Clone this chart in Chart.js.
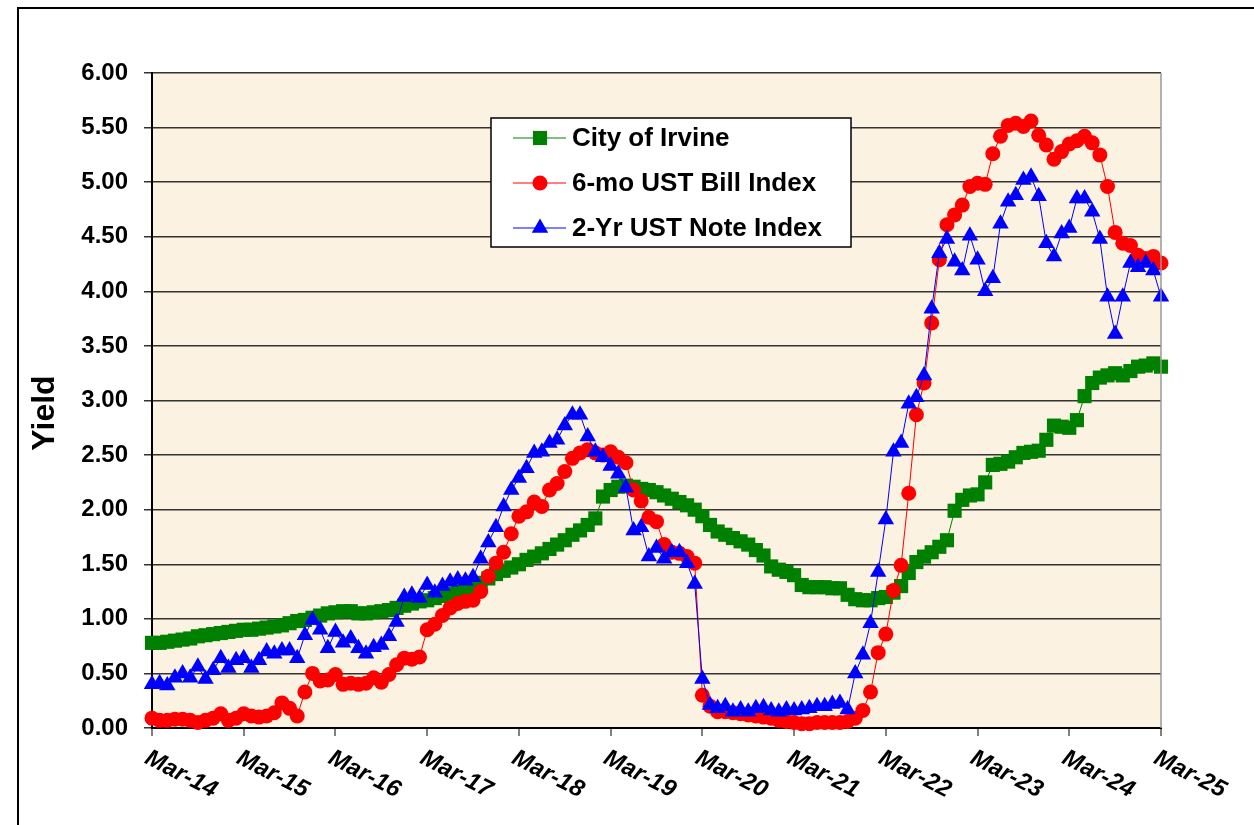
<!DOCTYPE html>
<html>
<head>
<meta charset="utf-8">
<script src="https://cdn.jsdelivr.net/npm/chart.js@4.4.1/dist/chart.umd.min.js"></script>
<style>
  html, body { margin: 0; padding: 0; background: #fff; }
  #yield-container { position: relative; width: 1254px; height: 825px; }
</style>
</head>
<body>
<div id="yield-container"><canvas id="yield-canvas"></canvas></div>
<script>
// one tick label per March, data is monthly from Mar-14 to Mar-25
const xLabels = ['Mar-14', 'Mar-15', 'Mar-16', 'Mar-17', 'Mar-18', 'Mar-19', 'Mar-20', 'Mar-21', 'Mar-22', 'Mar-23', 'Mar-24', 'Mar-25']
const seriesNames = ['City of Irvine', '6-mo UST Bill Index', '2-Yr UST Note Index']
const yTitle = 'Yield'

const irvine = [
  0.78, 0.78, 0.79, 0.80, 0.81, 0.82, 0.84, 0.85, 0.86, 0.87, 0.88, 0.89,
  0.90, 0.90, 0.91, 0.92, 0.93, 0.94, 0.96, 0.98, 0.99, 1.01, 1.03, 1.05,
  1.06, 1.07, 1.07, 1.05, 1.05, 1.06, 1.07, 1.08, 1.10, 1.12, 1.14, 1.16,
  1.17, 1.19, 1.21, 1.23, 1.25, 1.27, 1.29, 1.33, 1.37, 1.41, 1.44, 1.47,
  1.50, 1.54, 1.57, 1.60, 1.64, 1.68, 1.72, 1.77, 1.81, 1.86, 1.92, 2.12,
  2.18, 2.21, 2.22, 2.21, 2.19, 2.18, 2.16, 2.13, 2.10, 2.07, 2.04, 2.00,
  1.94, 1.86, 1.80, 1.77, 1.74, 1.71, 1.68, 1.63, 1.58, 1.48, 1.45, 1.43,
  1.40, 1.31, 1.29, 1.29, 1.29, 1.28, 1.28, 1.22, 1.18, 1.17, 1.17, 1.19,
  1.20, 1.24, 1.30, 1.42, 1.52, 1.57, 1.61, 1.66, 1.72, 1.99, 2.09, 2.13,
  2.14, 2.25, 2.41, 2.42, 2.44, 2.48, 2.52, 2.53, 2.54, 2.64, 2.77, 2.76,
  2.75, 2.82, 3.04, 3.16, 3.21, 3.23, 3.25, 3.23, 3.27, 3.31, 3.32, 3.34,
  3.31
]

const billIndex = [
  0.09, 0.07, 0.07, 0.08, 0.08, 0.07, 0.05, 0.07, 0.09, 0.13, 0.07, 0.09,
  0.13, 0.11, 0.10, 0.11, 0.14, 0.23, 0.18, 0.11, 0.33, 0.50, 0.43, 0.44,
  0.49, 0.40, 0.41, 0.40, 0.41, 0.46, 0.42, 0.49, 0.58, 0.64, 0.63, 0.65,
  0.90, 0.95, 1.03, 1.10, 1.14, 1.16, 1.17, 1.25, 1.39, 1.51, 1.61, 1.78,
  1.94, 1.98, 2.07, 2.03, 2.18, 2.24, 2.35, 2.47, 2.52, 2.55, 2.52, 2.50,
  2.53, 2.48, 2.43, 2.18, 2.08, 1.93, 1.89, 1.68, 1.61, 1.60, 1.57, 1.51,
  0.30, 0.20, 0.15, 0.15, 0.14, 0.13, 0.12, 0.11, 0.10, 0.09, 0.07, 0.06,
  0.05, 0.04, 0.04, 0.05, 0.05, 0.05, 0.05, 0.06, 0.09, 0.16, 0.33, 0.69,
  0.86, 1.26, 1.49, 2.15, 2.87, 3.16, 3.71, 4.29, 4.61, 4.70, 4.79, 4.96,
  4.99, 4.98, 5.26, 5.42, 5.52, 5.54, 5.51, 5.56, 5.43, 5.34, 5.21, 5.28,
  5.35, 5.38, 5.42, 5.36, 5.25, 4.96, 4.54, 4.44, 4.42, 4.33, 4.30, 4.32,
  4.26
]

const noteIndex = [
  0.40, 0.41, 0.39, 0.46, 0.50, 0.46, 0.56, 0.45, 0.53, 0.64, 0.55, 0.62,
  0.64, 0.55, 0.62, 0.70, 0.68, 0.71, 0.71, 0.64, 0.85, 0.99, 0.90, 0.73,
  0.88, 0.78, 0.82, 0.73, 0.68, 0.74, 0.76, 0.84, 0.97, 1.20, 1.22, 1.19,
  1.31, 1.24, 1.30, 1.34, 1.36, 1.35, 1.38, 1.55, 1.70, 1.84, 2.03, 2.18,
  2.29, 2.38, 2.52, 2.53, 2.61, 2.64, 2.77, 2.87, 2.87, 2.67, 2.53, 2.48,
  2.40, 2.33, 2.20, 1.81, 1.84, 1.57, 1.65, 1.55, 1.61, 1.61, 1.51, 1.32,
  0.45, 0.21, 0.18, 0.20, 0.15, 0.17, 0.15, 0.18, 0.19, 0.16, 0.15, 0.17,
  0.16, 0.17, 0.18, 0.20, 0.20, 0.22, 0.23, 0.17, 0.50, 0.67, 0.96, 1.43,
  1.91, 2.53, 2.61, 2.97, 3.03, 3.23, 3.84, 4.35, 4.48, 4.27, 4.19, 4.51,
  4.29, 4.00, 4.12, 4.62, 4.82, 4.88, 5.02, 5.05, 4.87, 4.44, 4.32, 4.53,
  4.58, 4.85, 4.85, 4.73, 4.48, 3.95, 3.61, 3.95, 4.26, 4.22, 4.26, 4.19,
  3.95
]

const fontFamily = "Arial, 'Liberation Sans', sans-serif"
const toPoints = values => values.map((y, x) => ({ x, y }))

const frame = {
  id: 'frame',
  beforeDraw(chart) {
    const { ctx, chartArea: area } = chart
    ctx.save()
    ctx.fillStyle = '#FCF2E1'
    ctx.fillRect(area.left, area.top, area.right - area.left, area.bottom - area.top)

    // outer chart border, cut by the page on top/right
    ctx.strokeStyle = '#000'
    ctx.lineWidth = 2
    ctx.beginPath()
    ctx.moveTo(18, 830)
    ctx.lineTo(18, 8)
    ctx.lineTo(1260, 8)
    ctx.stroke()
    ctx.restore()
  },

  afterDraw(chart) {
    const { ctx, chartArea: area } = chart
    const xScale = chart.scales.x

    ctx.save()
    ctx.strokeStyle = '#9a9a9a'
    ctx.lineWidth = 1.5
    ctx.beginPath()
    ctx.moveTo(area.right, area.top)
    ctx.lineTo(area.right, area.bottom)
    ctx.stroke()

    // axis title sits a bit below the middle of the plot in the original
    ctx.fillStyle = '#000'
    ctx.font = `bold 32px ${fontFamily}`
    ctx.textAlign = 'center'
    ctx.textBaseline = 'middle'
    ctx.save()
    ctx.translate(45, 413)
    ctx.rotate(-Math.PI / 2)
    ctx.fillText(yTitle, 0, 0)
    ctx.restore()

    // slanted year labels
    ctx.font = `italic bold 24px ${fontFamily}`
    ctx.textAlign = 'left'
    ctx.textBaseline = 'top'
    xLabels.forEach((label, index) => {
      const px = xScale.getPixelForValue(index * 12)
      ctx.save()
      ctx.translate(px, area.bottom + 18)
      ctx.rotate(27 * Math.PI / 180)
      ctx.fillText(label, 0, 0)
      ctx.restore()
    })

    // legend box inside the plot
    const box = { left: 491, top: 118, width: 360, height: 129 }
    ctx.fillStyle = '#fff'
    ctx.fillRect(box.left, box.top, box.width, box.height)
    ctx.strokeStyle = '#000'
    ctx.lineWidth = 1.5
    ctx.strokeRect(box.left, box.top, box.width, box.height)

    const rowY = [138, 183, 228]
    chart.data.datasets.forEach((dataset, index) => {
      const y = rowY[index]
      ctx.strokeStyle = dataset.borderColor
      ctx.fillStyle = dataset.backgroundColor
      ctx.lineWidth = 1
      ctx.beginPath()
      ctx.moveTo(513, y)
      ctx.lineTo(566, y)
      ctx.stroke()
      Chart.helpers.drawPoint(ctx, { pointStyle: dataset.pointStyle, radius: dataset.pointRadius, rotation: 0, borderWidth: 0 }, 540, y)

      ctx.fillStyle = '#000'
      ctx.font = `bold 26px ${fontFamily}`
      ctx.textAlign = 'left'
      ctx.textBaseline = 'middle'
      ctx.fillText(dataset.label, 572, y + 1)
    })
    ctx.restore()
  }
}

new Chart(document.querySelector('#yield-canvas'), {
  type: 'line',
  data: {
    datasets: [
      { label: seriesNames[0], data: toPoints(irvine), borderColor: '#008000', backgroundColor: '#008000', borderWidth: 1, pointStyle: 'rect', pointRadius: 10, pointBorderWidth: 0, order: 3, clip: false },
      { label: seriesNames[1], data: toPoints(billIndex), borderColor: '#FF0000', backgroundColor: '#FF0000', borderWidth: 1, pointStyle: 'circle', pointRadius: 7.5, pointBorderWidth: 0, order: 2, clip: false },
      { label: seriesNames[2], data: toPoints(noteIndex), borderColor: '#0000FF', backgroundColor: '#0000FF', borderWidth: 1, pointStyle: 'triangle', pointRadius: 9.5, pointBorderWidth: 0, order: 1, clip: false }
    ]
  },
  options: {
    responsive: true,
    maintainAspectRatio: false,
    animation: false,
    layout: { padding: { top: 73, right: 93, left: 0, bottom: 0 } },
    plugins: { legend: { display: false }, tooltip: { enabled: false } },
    scales: {
      x: {
        type: 'linear',
        min: 0,
        max: 132,
        ticks: { display: false, stepSize: 12 },
        grid: { drawOnChartArea: false, drawTicks: true, tickLength: 8, color: '#808080', lineWidth: 2 },
        border: { color: '#000', width: 2 },
        afterFit: scale => { scale.height = 97 }
      },
      y: {
        min: 0,
        max: 6,
        ticks: {
          stepSize: 0.5,
          padding: 16,
          color: '#000',
          font: { family: fontFamily, size: 24, weight: 'bold' },
          callback: value => value.toFixed(2)
        },
        grid: { color: '#333', lineWidth: 1.5, tickLength: 8 },
        border: { color: '#000', width: 2 },
        afterFit: scale => { scale.width = 152 }
      }
    }
  },
  plugins: [frame]
})
</script>
</body>
</html>
